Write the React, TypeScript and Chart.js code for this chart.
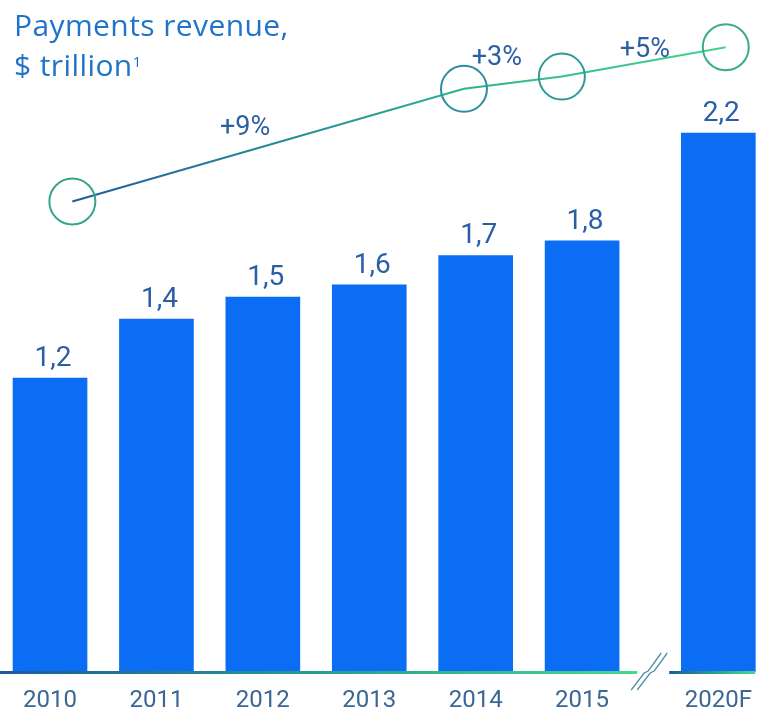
import React, { useEffect, useRef } from "react";
import { Chart, registerables } from "chart.js";

Chart.register(...registerables);

const categories = ["2010", "2011", "2012", "2013", "2014", "2015", "2020F"];
const categoryPositions = [0, 1, 2, 3, 4, 5, 6.28];
const revenue = [1.2, 1.44, 1.53, 1.58, 1.7, 1.76, 2.2];
const revenueLabels = ["1,2", "1,4", "1,5", "1,6", "1,7", "1,8", "2,2"];
const growthX = [0.21, 3.89, 4.81, 6.35];
const growthY = [1.92, 2.38, 2.43, 2.55];
const growthLabels = ["+9%", "+3%", "+5%"];
const circleColors = ["#35a68c", "#2b8ea2", "#2d9a98", "#38aa8e"];

const FONT = "Roboto, 'Open Sans', sans-serif";
// label offsets (px) relative to each segment's midpoint
const LABEL_OFFSETS = [
  [-23, -10],
  [-16, -18],
  [1, -5],
];

const decorPlugin = {
  id: "decor",
  afterDatasetsDraw(chart: any) {
    const { ctx, chartArea } = chart;
    const xs = chart.scales.x;
    const bottom = chartArea.bottom;

    // baseline with break
    const breakX = (xs.getPixelForValue(categoryPositions[5]) + xs.getPixelForValue(categoryPositions[6])) / 2;
    const seg = (x0: number, x1: number) => {
      const g = ctx.createLinearGradient(x0, 0, x1, 0);
      g.addColorStop(0, "#1d5a9c");
      g.addColorStop(0.5, "#2a9b91");
      g.addColorStop(1, "#47d88a");
      ctx.save();
      ctx.strokeStyle = g;
      ctx.lineWidth = 3;
      ctx.beginPath();
      ctx.moveTo(x0, bottom + 0.5);
      ctx.lineTo(x1, bottom + 0.5);
      ctx.stroke();
      ctx.restore();
    };
    seg(chartArea.left, breakX - 13);
    seg(breakX + 19, xs.getPixelForValue(categoryPositions[6]) + 37);

    // break mark
    ctx.save();
    ctx.strokeStyle = "#4f8fa5";
    ctx.lineWidth = 1.3;
    [-3, 3].forEach((d) => {
      ctx.beginPath();
      ctx.moveTo(breakX - 16 + d, bottom + 18);
      ctx.lineTo(breakX - 3 + d, bottom + 1);
      ctx.lineTo(breakX + 1 + d, bottom - 1);
      ctx.lineTo(breakX + 14 + d, bottom - 19);
      ctx.stroke();
    });
    ctx.restore();

    // bar value labels
    const barMeta = chart.getDatasetMeta(0);
    ctx.save();
    ctx.fillStyle = "#2a5ea6";
    ctx.font = `28px ${FONT}`;
    ctx.textAlign = "center";
    ctx.textBaseline = "alphabetic";
    barMeta.data.forEach((el: any, i: number) => {
      ctx.fillText(revenueLabels[i], el.x + 3, el.y - 12);
    });
    ctx.restore();

    // x labels
    ctx.save();
    ctx.fillStyle = "#3a6794";
    ctx.font = `24px ${FONT}`;
    ctx.textAlign = "center";
    ctx.textBaseline = "alphabetic";
    barMeta.data.forEach((el: any, i: number) => {
      ctx.fillText(categories[i], el.x, bottom + 35);
    });
    ctx.restore();

    // growth labels
    const lineMeta = chart.getDatasetMeta(1);
    ctx.save();
    ctx.fillStyle = "#2c5fa3";
    ctx.font = `27px ${FONT}`;
    ctx.textAlign = "center";
    ctx.textBaseline = "alphabetic";
    growthLabels.forEach((t, i) => {
      const a = lineMeta.data[i];
      const b = lineMeta.data[i + 1];
      const mx = (a.x + b.x) / 2;
      const my = (a.y + b.y) / 2;
      ctx.fillText(t, mx + LABEL_OFFSETS[i][0], my + LABEL_OFFSETS[i][1]);
    });
    ctx.restore();
  },
};

export default function App() {
  const ref = useRef<HTMLCanvasElement>(null);

  useEffect(() => {
    if (!ref.current) return;
    const chart = new Chart(ref.current, {
      type: "bar",
      data: {
        datasets: [
          {
            type: "bar",
            data: categoryPositions.map((x, i) => ({ x, y: revenue[i] })),
            backgroundColor: "#0a6df3",
            barThickness: 74,
            order: 2,
          } as any,
          {
            type: "line",
            data: growthX.map((x, i) => ({ x, y: growthY[i] })),
            borderColor: (c: any) => {
              const area = c.chart.chartArea;
              if (!area) return "#2a9b91";
              const g = c.chart.ctx.createLinearGradient(70, 0, 730, 0);
              g.addColorStop(0, "#1f5c9e");
              g.addColorStop(0.6, "#2fb38f");
              g.addColorStop(1, "#45d48c");
              return g;
            },
            borderWidth: 2,
            pointRadius: 23,
            pointBorderWidth: 2,
            pointBorderColor: circleColors,
            pointBackgroundColor: "rgba(0,0,0,0)",
            pointHoverRadius: 23,
            tension: 0,
            clip: false,
            order: 1,
          } as any,
        ],
      },
      options: {
        responsive: false,
        animation: false,
        layout: { autoPadding: false, padding: { top: 8, bottom: 44, left: 0, right: 0 } },
        plugins: {
          legend: { display: false },
          tooltip: { enabled: false },
          title: { display: false },
        },
        scales: {
          x: { type: "linear", display: false, offset: false, min: -0.47, max: 6.7 },
          y: { display: false, min: 0, max: 2.71 },
        },
      },
      plugins: [decorPlugin],
    });
    return () => chart.destroy();
  }, []);

  return (
    <div style={{ position: "absolute", left: 0, top: 0, width: 763, height: 716, background: "#fff" }}>
      <canvas ref={ref} width={763} height={716} style={{ position: "absolute", left: 0, top: 0 }} />
      <div
        style={{
          position: "absolute",
          left: 14,
          top: 5,
          color: "#2074c8",
          fontFamily: "'Open Sans', sans-serif",
          fontSize: 30,
          letterSpacing: "0.4px",
          lineHeight: "40px",
        }}
      >
        Payments revenue,
        <br />
        $ trillion<sup style={{ fontSize: 15, verticalAlign: "top", lineHeight: "32px" }}>1</sup>
      </div>
    </div>
  );
}
